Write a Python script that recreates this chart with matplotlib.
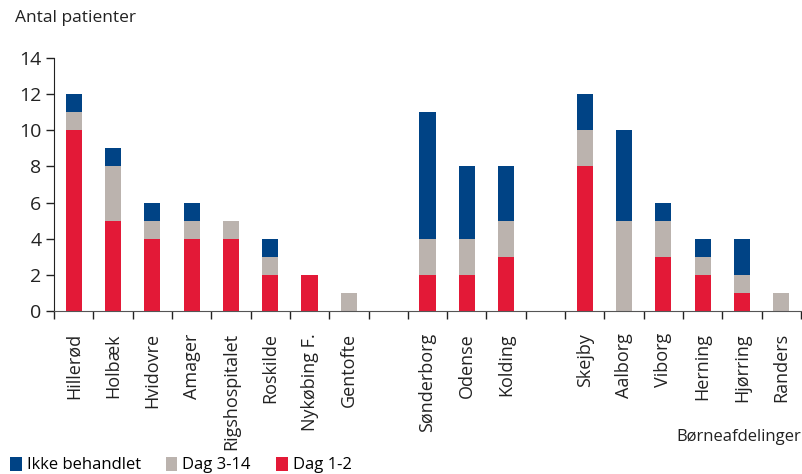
import matplotlib
matplotlib.use("Agg")
import matplotlib.pyplot as plt
import numpy as np

categories = ["Hillerød", "Holbæk", "Hvidovre", "Amager", "Rigshospitalet", "Roskilde",
              "Nykøbing F.", "Gentofte", "", "Sønderborg", "Odense", "Kolding", "",
              "Skejby", "Aalborg", "Viborg", "Herning", "Hjørring", "Randers"]
dag_1_2 = [10, 5, 4, 4, 4, 2, 2, 0, 0, 2, 2, 3, 0, 8, 0, 3, 2, 1, 0]
dag_3_14 = [1, 3, 1, 1, 1, 1, 0, 1, 0, 2, 2, 2, 0, 2, 5, 2, 1, 1, 1]
ikke_behandlet = [1, 1, 1, 1, 0, 1, 0, 0, 0, 7, 4, 3, 0, 2, 5, 1, 1, 2, 0]
yticks = [0, 2, 4, 6, 8, 10, 12, 14]

RED = "#e31937"
GRAY = "#bbb3ae"
BLUE = "#004385"

plt.rcParams["font.family"] = ["Open Sans", "DejaVu Sans"]

fig = plt.figure(figsize=(8.03, 4.74), dpi=100)
ax = fig.add_axes([54/803, 1-311/474, (801-54)/803, (311-58)/474])

x = np.arange(len(categories))
d1 = np.array(dag_1_2)
d3 = np.array(dag_3_14)
ik = np.array(ikke_behandlet)
w = 0.41
ax.bar(x, d1, w, color=RED, label="Dag 1-2")
ax.bar(x, d3, w, bottom=d1, color=GRAY, label="Dag 3-14")
ax.bar(x, ik, w, bottom=d1 + d3, color=BLUE, label="Ikke behandlet")

ax.set_xlim(-0.5, len(categories) - 0.5)
ax.set_ylim(0, 14)
ax.set_yticks(yticks)
ax.tick_params(axis="y", length=6, width=1, labelsize=14, pad=3, color="#222222", labelcolor="#222222")
ax.set_xticks(x)
ax.set_xticklabels(categories, rotation=90, fontsize=13, va="top", color="#222222")
ax.tick_params(axis="x", which="major", length=0, pad=16)
ax.set_xticks(np.arange(len(categories) + 1) - 0.5, minor=True)
ax.tick_params(axis="x", which="minor", length=6, width=1, color="#222222")

for s in ["top", "right"]:
    ax.spines[s].set_visible(False)
ax.spines["left"].set_color("#222222")
ax.spines["bottom"].set_color("#555555")

fig.text(15/803, 1-18/474, "Antal patienter", fontsize=12.5, va="center", ha="left", color="#222222")
fig.text(801/803, 1-437/474, "Børneafdelinger", fontsize=12, va="center", ha="right", color="#222222")

handles, labels = ax.get_legend_handles_labels()
order = [2, 1, 0]
fig.legend([handles[i] for i in order], [labels[i] for i in order],
           loc="center left", bbox_to_anchor=(10/803, 1-465/474), ncol=3, frameon=False,
           fontsize=12, handlelength=0.7, handleheight=0.9, handletextpad=0.3,
           columnspacing=1.5, borderpad=0, borderaxespad=0)

fig.savefig("out.png", dpi=100)
